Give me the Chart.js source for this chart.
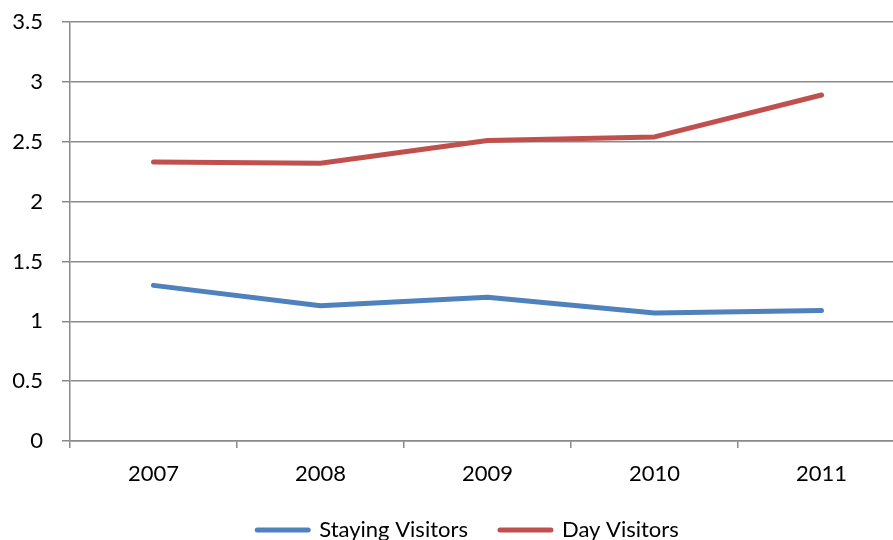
<!DOCTYPE html>
<html>
<head>
<meta charset="utf-8">
<script src="https://cdn.jsdelivr.net/npm/chart.js@4"></script>
<style>
  html, body { margin: 0; padding: 0; background: #fff; overflow: hidden; }
  #wrap { width: 893px; height: 540px; overflow: hidden; }
</style>
</head>
<body>
<div id="wrap"><canvas id="chart" width="936" height="551"></canvas></div>
<script>
// Data
const years = ['2007', '2008', '2009', '2010', '2011'];
const stayingVisitors = [1.30, 1.13, 1.20, 1.07, 1.09];
const dayVisitors = [2.33, 2.32, 2.51, 2.54, 2.89];
const yMin = 0, yMax = 3.5, yStep = 0.5;

const gridGray = '#8a8a8a';
const fontSpec = { family: 'Lato', size: 22 };

new Chart(document.getElementById('chart'), {
    type: 'line',
    data: {
        labels: years,
        datasets: [
            { label: 'Staying Visitors', data: stayingVisitors, borderColor: '#4F81BD', backgroundColor: '#4F81BD' },
            { label: 'Day Visitors', data: dayVisitors, borderColor: '#C0504D', backgroundColor: '#C0504D' }
        ]
    },
    options: {
        responsive: false,
        animation: false,
        layout: { padding: { left: 0, right: 0, top: 22, bottom: 0 } },
        elements: {
            line: { borderWidth: 5, tension: 0, borderCapStyle: 'round', borderJoinStyle: 'round' },
            point: { radius: 0, hoverRadius: 0 }
        },
        plugins: {
            tooltip: { enabled: false },
            legend: {
                position: 'bottom',
                labels: {
                    usePointStyle: true, pointStyle: 'line', pointStyleWidth: 51,
                    padding: 32, color: '#000', font: fontSpec,
                    // thick round-capped line markers like the series
                    generateLabels: c => Chart.defaults.plugins.legend.labels.generateLabels(c)
                        .map(l => ({ ...l, lineWidth: 5, lineCap: 'round' }))
                }
            }
        },
        scales: {
            x: {
                offset: true,
                afterFit: s => { s.height = 46; },
                grid: { offset: true, drawOnChartArea: false, tickLength: 7, color: gridGray, lineWidth: 1.5 },
                border: { color: gridGray, width: 1.5 },
                ticks: { color: '#000', font: fontSpec, padding: 13, maxRotation: 0 }
            },
            y: {
                min: yMin, max: yMax,
                afterFit: s => { s.width = 70; s.paddingTop = 0; s.paddingBottom = 0; },
                grid: { color: gridGray, lineWidth: 1.5, tickLength: 8 },
                border: { color: gridGray, width: 1.5 },
                ticks: { stepSize: yStep, color: '#000', font: fontSpec, padding: 19, callback: v => String(v) }
            },
            // empty right-hand spacer: the plot stops short of the legend's right edge
            yRight: {
                position: 'right', min: yMin, max: yMax,
                afterFit: s => { s.width = 31; s.paddingTop = 0; s.paddingBottom = 0; },
                grid: { display: false }, border: { display: false }, ticks: { display: false }
            }
        }
    }
});
</script>
</body>
</html>
